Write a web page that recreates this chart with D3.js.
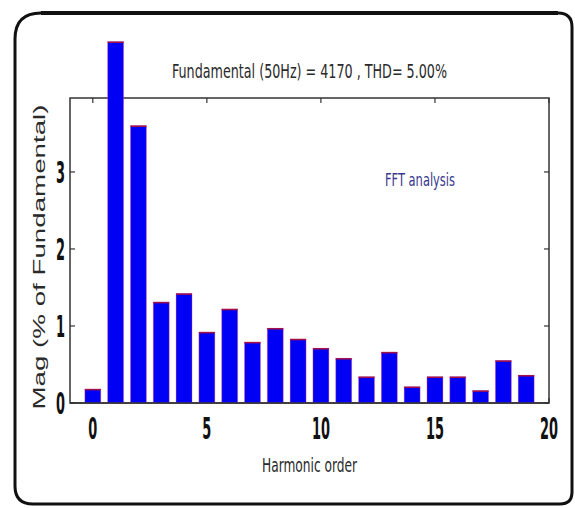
<!DOCTYPE html>
<html>
<head>
<meta charset="utf-8">
<script src="https://cdn.jsdelivr.net/npm/d3@7"></script>
<style>
  html, body { margin: 0; padding: 0; background: #fff; }
  svg { display: block; }
</style>
</head>
<body>
<svg id="chart" width="575" height="508"></svg>
<script>
// ---- data ----
const harmonics = [0, 1, 2, 3, 4, 5, 6, 7, 8, 9, 10, 11, 12, 13, 14, 15, 16, 17, 18, 19];
const magnitudes = [0.18, 4.69, 3.60, 1.31, 1.42, 0.92, 1.22, 0.79, 0.97, 0.83,
                    0.71, 0.58, 0.34, 0.66, 0.21, 0.34, 0.34, 0.16, 0.55, 0.36];
const xTicks = [0, 5, 10, 15, 20];
const yTicks = [0, 1, 2, 3];
const titleText = "Fundamental (50Hz) = 4170 , THD= 5.00%";
const noteText = "FFT analysis";
const xLabel = "Harmonic order";
const yLabel = "Mag (% of Fundamental)";

// ---- layout ----
const svg = d3.select("#chart");
const plot = { left: 70, right: 549, top: 98, bottom: 403 };
const x = d3.scaleLinear().domain([-1, 20]).range([plot.left, plot.right]);
const y = d3.scaleLinear().domain([0, 3.96]).range([plot.bottom, plot.top]);
const narrow = "'Liberation Sans Narrow', 'Arial Narrow', 'DejaVu Sans Condensed', Arial, sans-serif";

// outer rounded frame
const L = 15, T = 13, R = 572, B = 504;
const rTL = 26, rTR = 14, rBR = 12, rBL = 18;
const framePath = `M${L + rTL},${T} L${R - rTR},${T} Q${R},${T} ${R},${T + rTR}
  L${R},${B - rBR} Q${R},${B} ${R - rBR},${B} L${L + rBL},${B} Q${L},${B} ${L},${B - rBL}
  L${L},${T + rTL} Q${L},${T} ${L + rTL},${T} Z`;
svg.append("path").attr("d", framePath).attr("fill", "none")
  .attr("stroke", "#111").attr("stroke-width", 3);
svg.append("line").attr("x1", L + rTL).attr("x2", R - rTR).attr("y1", T).attr("y2", T)
  .attr("stroke", "#111").attr("stroke-width", 4);

// plot box
svg.append("rect").attr("x", plot.left).attr("y", plot.top)
  .attr("width", plot.right - plot.left).attr("height", plot.bottom - plot.top)
  .attr("fill", "#fff").attr("stroke", "#333").attr("stroke-width", 1.5);

// inner ticks on all four sides
const tl = 5;
const tickG = svg.append("g").attr("stroke", "#333").attr("stroke-width", 1.2);
xTicks.forEach(v => {
  tickG.append("line").attr("x1", x(v)).attr("x2", x(v)).attr("y1", plot.bottom).attr("y2", plot.bottom - tl);
  tickG.append("line").attr("x1", x(v)).attr("x2", x(v)).attr("y1", plot.top).attr("y2", plot.top + tl);
});
yTicks.forEach(v => {
  tickG.append("line").attr("x1", plot.left).attr("x2", plot.left + tl).attr("y1", y(v)).attr("y2", y(v));
  tickG.append("line").attr("x1", plot.right).attr("x2", plot.right - tl).attr("y1", y(v)).attr("y2", y(v));
});

// bars
const barW = 0.7;
const bars = svg.append("g");
bars.selectAll("rect.bar").data(harmonics).join("rect")
  .attr("class", "bar")
  .attr("x", (d) => x(d - barW / 2))
  .attr("width", (d) => x(d + barW / 2) - x(d - barW / 2))
  .attr("y", (d, i) => y(magnitudes[i]))
  .attr("height", (d, i) => y(0) - y(magnitudes[i]))
  .attr("fill", "#0000f4")
  .attr("stroke", "#ff5a8c").attr("stroke-opacity", 0.35).attr("stroke-width", 1);
bars.selectAll("line.top").data(harmonics).join("line")
  .attr("class", "top")
  .attr("x1", (d) => x(d - barW / 2)).attr("x2", (d) => x(d + barW / 2))
  .attr("y1", (d, i) => y(magnitudes[i]) + 0.5).attr("y2", (d, i) => y(magnitudes[i]) + 0.5)
  .attr("stroke", "#a0104a").attr("stroke-width", 1.5);

// bottom axis line redrawn over bars
svg.append("line").attr("x1", plot.left).attr("x2", plot.right)
  .attr("y1", plot.bottom).attr("y2", plot.bottom).attr("stroke", "#333").attr("stroke-width", 1.5);

// text helper
function txt(s, px, py, size, len, opts = {}) {
  const t = svg.append("text").attr("x", px).attr("y", py)
    .attr("font-family", opts.family || narrow)
    .attr("font-size", size)
    .attr("font-weight", opts.weight || "normal")
    .attr("fill", opts.fill || "#222")
    .attr("text-anchor", opts.anchor || "middle")
    .attr("textLength", len).attr("lengthAdjust", "spacingAndGlyphs")
    .text(s);
  if (opts.transform) t.attr("transform", opts.transform);
  return t;
}

// tick labels
xTicks.forEach(v => txt(String(v), x(v), 439, 30, 9 * String(v).length, { weight: "bold", fill: "#111" }));
yTicks.forEach(v => txt(String(v), 65, y(v) + 11, 30, 9, { weight: "bold", fill: "#111", anchor: "end" }));

// titles
txt(titleText, 309.5, 78, 20, 275, { fill: "#2a2a2a" });
txt(noteText, 420, 186, 17, 70, { fill: "#383890" });
txt(xLabel, 309.5, 472, 19, 95, { fill: "#2a2a2a" });
txt(yLabel, 0, 0, 17, 305, {
  family: "'Liberation Sans', Arial, sans-serif", fill: "#2a2a2a",
  transform: "translate(45,257) rotate(-90)"
});
</script>
</body>
</html>
